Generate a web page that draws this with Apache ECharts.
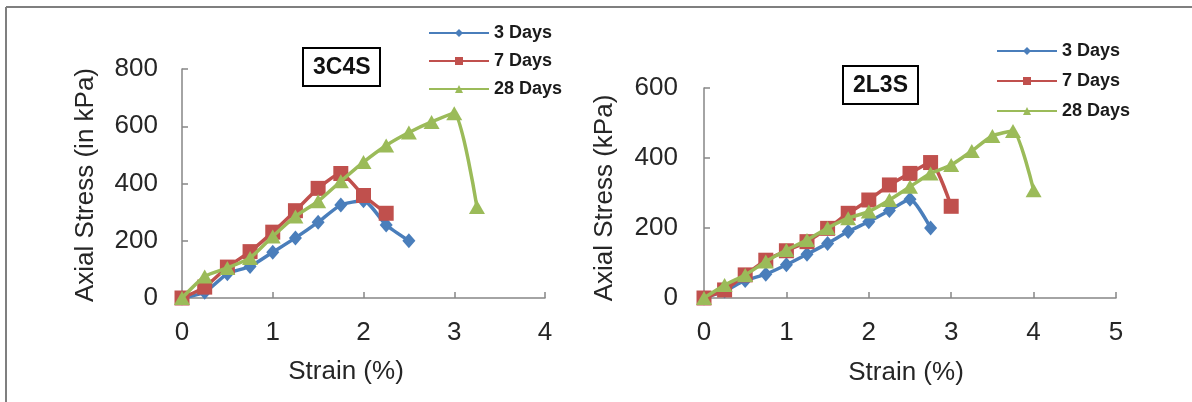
<!DOCTYPE html>
<html><head><meta charset="utf-8">
<script src="https://cdn.jsdelivr.net/npm/echarts@6/dist/echarts.min.js"></script>
<style>html,body{margin:0;padding:0;background:#fff}#c{width:1192px;height:402px}</style>
</head><body><div id="c"></div>
<script>
// ---- data ----
var seriesNames = ['3 Days', '7 Days', '28 Days'];
var xTicks1 = [0, 1, 2, 3, 4];
var yTicks1 = [0, 200, 400, 600, 800];
var xTicks2 = [0, 1, 2, 3, 4, 5];
var yTicks2 = [0, 200, 400, 600];
// 3C4S  [strain %, axial stress kPa]
var c4s_3d = [[0,0],[0.25,20],[0.5,85],[0.75,110],[1,160],[1.25,210],[1.5,265],[1.75,325],[2,340],[2.25,255],[2.5,200]];
var c4s_7d = [[0,0],[0.25,38],[0.5,108],[0.75,162],[1,230],[1.25,305],[1.5,383],[1.75,435],[2,358],[2.25,296]];
var c4s_28d = [[0,0],[0.25,75],[0.5,105],[0.75,140],[1,215],[1.25,285],[1.5,338],[1.75,408],[2,475],[2.25,533],[2.5,578],[2.75,615],[3,645],[3.25,318]];
// 2L3S
var l3s_3d = [[0,0],[0.25,20],[0.5,50],[0.75,68],[1,95],[1.25,125],[1.5,156],[1.75,190],[2,218],[2.25,250],[2.5,282],[2.75,200]];
var l3s_7d = [[0,0],[0.25,23],[0.5,66],[0.75,108],[1,135],[1.25,161],[1.5,199],[1.75,242],[2,280],[2.25,323],[2.5,356],[2.75,387],[3,262]];
var l3s_28d = [[0,0],[0.25,37],[0.5,66],[0.75,104],[1,137],[1.25,166],[1.5,200],[1.75,228],[2,247],[2.25,280],[2.5,318],[2.75,356],[3,380],[3.25,420],[3.5,463],[3.75,477],[4,308]];

var colors = ['#4A7EBB', '#C0504D', '#9BBB59'];
var symbols = ['diamond', 'rect', 'triangle'];
var symSizes = [[13,15], 15, [16,14]];
var FONT = '"Liberation Sans", Arial, sans-serif';
var axisCol = '#868686';
var txtCol = '#262626';

function mkX(grid, ticks) {
  return {
    type: 'value', gridIndex: grid, min: ticks[0], max: ticks[ticks.length-1], interval: ticks[1]-ticks[0],
    axisLine: {show: true, lineStyle: {color: axisCol, width: 1.5}},
    axisTick: {show: true, inside: true, length: 6, lineStyle: {color: axisCol, width: 1.5}},
    axisLabel: {color: txtCol, fontSize: 26, fontFamily: FONT, margin: 22},
    splitLine: {show: false}
  };
}
function mkY(grid, ticks, m) {
  return {
    type: 'value', gridIndex: grid, min: ticks[0], max: ticks[ticks.length-1], interval: ticks[1]-ticks[0],
    axisLine: {show: true, lineStyle: {color: axisCol, width: 1.5}},
    axisTick: {show: true, inside: true, length: 6, lineStyle: {color: axisCol, width: 1.5}},
    axisLabel: {color: txtCol, fontSize: 26, fontFamily: FONT, margin: m},
    splitLine: {show: false}
  };
}
function mkS(i, data, gi) {
  return {
    name: seriesNames[i], type: 'line', xAxisIndex: gi, yAxisIndex: gi, data: data,
    smooth: 0.2, symbol: symbols[i], symbolSize: symSizes[i], showSymbol: true,
    lineStyle: {color: colors[i], width: 3.5}, itemStyle: {color: colors[i]},
    z: 2 + i, animation: false
  };
}
function mkLegend(left, top, gap) {
  return {
    left: left, top: top, orient: 'vertical', itemWidth: 60, itemHeight: 10, itemGap: gap,
    padding: 0, data: seriesNames, selectedMode: false,
    textStyle: {fontSize: 18, fontWeight: 'bold', color: '#1a1a1a', fontFamily: FONT}
  };
}

var option = {
  animation: false,
  backgroundColor: '#fff',
  grid: [
    {left: 182, top: 69, width: 363, height: 229},
    {left: 704, top: 88, width: 412, height: 210}
  ],
  xAxis: [mkX(0, xTicks1), mkX(1, xTicks2)],
  yAxis: [mkY(0, yTicks1, 24), mkY(1, yTicks2, 26)],
  title: [
    {text: '3C4S', left: 303, top: 48, borderColor: '#000', borderWidth: 2, padding: [8, 10, 7, 10],
     textStyle: {fontSize: 23, fontWeight: 'bold', color: '#111', fontFamily: FONT}},
    {text: '2L3S', left: 843, top: 66, borderColor: '#000', borderWidth: 2, padding: [8, 10, 7, 10],
     textStyle: {fontSize: 23, fontWeight: 'bold', color: '#111', fontFamily: FONT}}
  ],
  legend: [mkLegend(428, 24, 10), mkLegend(996, 42, 12)],
  series: [
    mkS(0, c4s_3d, 0), mkS(1, c4s_7d, 0), mkS(2, c4s_28d, 0),
    mkS(0, l3s_3d, 1), mkS(1, l3s_7d, 1), mkS(2, l3s_28d, 1)
  ],
  graphic: [
    {type: 'line', shape: {x1: 6, y1: 7, x2: 1192, y2: 7}, style: {stroke: '#7f7f7f', lineWidth: 2}},
    {type: 'line', shape: {x1: 6, y1: 7, x2: 6, y2: 402}, style: {stroke: '#7f7f7f', lineWidth: 2}},
    {type: 'text', x: 86, y: 185, rotation: Math.PI/2,
     style: {text: 'Axial Stress (in kPa)', fontSize: 26, fontFamily: FONT, fill: txtCol, align: 'center', verticalAlign: 'middle'}},
    {type: 'text', x: 605, y: 198, rotation: Math.PI/2,
     style: {text: 'Axial Stress (kPa)', fontSize: 26, fontFamily: FONT, fill: txtCol, align: 'center', verticalAlign: 'middle'}},
    {type: 'text', x: 346, y: 372,
     style: {text: 'Strain (%)', fontSize: 26, fontFamily: FONT, fill: txtCol, align: 'center', verticalAlign: 'middle'}},
    {type: 'text', x: 906, y: 373,
     style: {text: 'Strain (%)', fontSize: 26, fontFamily: FONT, fill: txtCol, align: 'center', verticalAlign: 'middle'}}
  ]
};
var chart = echarts.init(document.getElementById('c'), null, {renderer: 'canvas'});
chart.setOption(option);
</script></body></html>
